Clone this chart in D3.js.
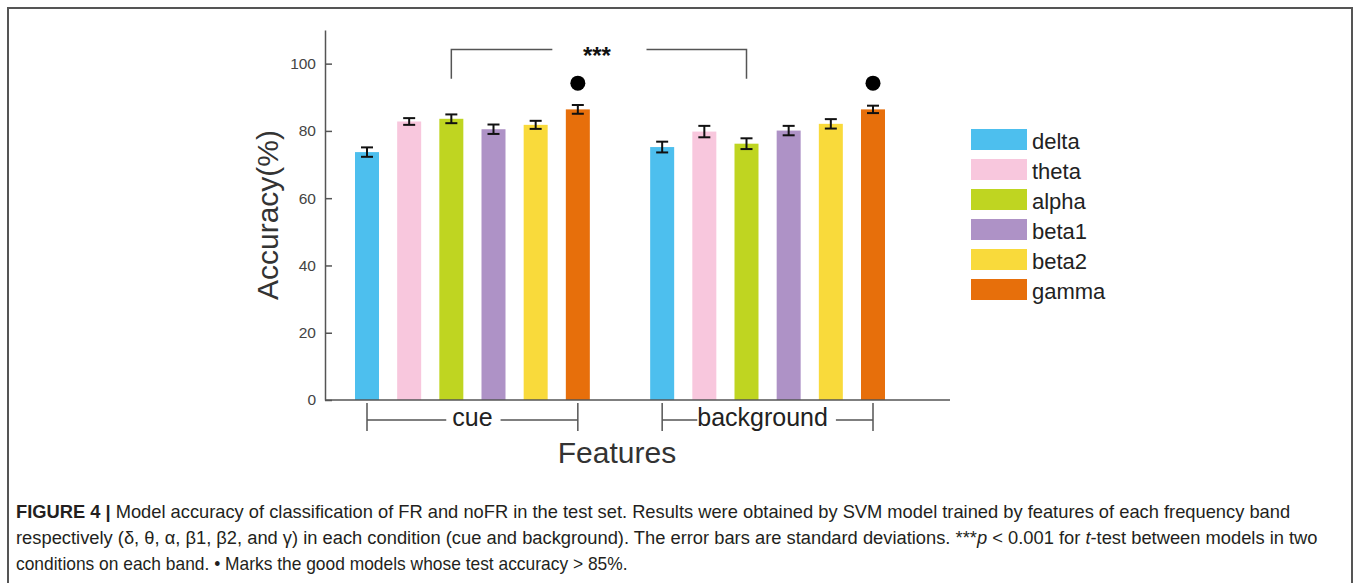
<!DOCTYPE html>
<html>
<head>
<meta charset="utf-8">
<script src="https://cdn.jsdelivr.net/npm/d3@7"></script>
<style>
  html, body { margin: 0; padding: 0; background: #fff; }
  svg { display: block; }
  text { font-family: "Liberation Sans", Arial, Helvetica, sans-serif; }
</style>
</head>
<body>
<svg id="chart" width="1357" height="583"></svg>
<script>
// ---------- data ----------
const bands = ["delta", "theta", "alpha", "beta1", "beta2", "gamma"];
const colors = ["#4DBFEE", "#F8C7DD", "#BFD521", "#AE92C6", "#F9DA3B", "#E76F0B"];
const conditions = ["cue", "background"];
const cueMean = [73.7, 82.8, 83.6, 80.5, 81.8, 86.4];
const cueSD   = [1.4, 1.0, 1.3, 1.4, 1.2, 1.3];
const bgMean  = [75.2, 79.8, 76.2, 80.1, 82.1, 86.4];
const bgSD    = [1.6, 1.7, 1.6, 1.4, 1.4, 1.1];
const goodModel = [["cue", "gamma"], ["background", "gamma"]];
const dotLevel = 94.2;
const yTicks = [0, 20, 40, 60, 80, 100];
const sigLabel = "***";
const sigTop = 104.2, sigBottom = 95.5;

const svg = d3.select("#chart");

// frame
svg.append("rect").attr("x", 8).attr("y", 8).attr("width", 1344).attr("height", 600)
  .attr("fill", "none").attr("stroke", "#555").attr("stroke-width", 2);

// ---------- scales ----------
const y = d3.scaleLinear().domain([0, 110]).range([400, 30]);
const x = d3.scaleLinear().domain([0, 12]).range([367, 873]);
const groupOffset = { "cue": 0, "background": 7 };
const barW = 24;

const records = [];
conditions.forEach(c => {
  const m = c === "cue" ? cueMean : bgMean;
  const s = c === "cue" ? cueSD : bgSD;
  bands.forEach((b, i) => records.push({ cond: c, band: b, i, idx: groupOffset[c] + i, mean: m[i], sd: s[i] }));
});

// bars
svg.append("g").selectAll("rect").data(records).join("rect")
  .attr("x", d => x(d.idx) - barW / 2)
  .attr("width", barW)
  .attr("y", d => y(d.mean))
  .attr("height", d => y(0) - y(d.mean))
  .attr("fill", d => colors[d.i]);

// error bars
const eg = svg.append("g").attr("stroke", "#111").attr("stroke-width", 2);
records.forEach(d => {
  const cx = x(d.idx);
  eg.append("line").attr("x1", cx).attr("x2", cx).attr("y1", y(d.mean + d.sd)).attr("y2", y(d.mean - d.sd));
  eg.append("line").attr("x1", cx - 6).attr("x2", cx + 6).attr("y1", y(d.mean + d.sd)).attr("y2", y(d.mean + d.sd));
  eg.append("line").attr("x1", cx - 6).attr("x2", cx + 6).attr("y1", y(d.mean - d.sd)).attr("y2", y(d.mean - d.sd));
});

// good model dots
svg.append("g").selectAll("circle").data(goodModel).join("circle")
  .attr("cx", d => x(groupOffset[d[0]] + bands.indexOf(d[1])))
  .attr("cy", y(dotLevel))
  .attr("r", 7.5)
  .attr("fill", "#000");

// y axis
const yAxis = d3.axisLeft(y).tickValues(yTicks).tickSizeInner(-7).tickSizeOuter(0).tickPadding(9);
const yg = svg.append("g").attr("transform", `translate(325,0)`).call(yAxis);
yg.select(".domain").attr("stroke", "#555").attr("stroke-width", 1.5);
yg.selectAll(".tick line").attr("stroke", "#555").attr("stroke-width", 1.5);
yg.selectAll(".tick text").attr("font-size", 15.5).attr("fill", "#444")
  .attr("font-family", "Liberation Sans, Arial, sans-serif");

// x axis line
svg.append("line").attr("x1", 325).attr("x2", 950).attr("y1", y(0)).attr("y2", y(0))
  .attr("stroke", "#555").attr("stroke-width", 1.5);

// group brackets
conditions.forEach(c => {
  const x0 = x(groupOffset[c]), x1 = x(groupOffset[c] + bands.length - 1);
  const g = svg.append("g").attr("stroke", "#555").attr("stroke-width", 1.5);
  g.append("line").attr("x1", x0).attr("x2", x0).attr("y1", 403).attr("y2", 431);
  g.append("line").attr("x1", x1).attr("x2", x1).attr("y1", 403).attr("y2", 431);
  const t = svg.append("text").attr("x", (x0 + x1) / 2 - (c === "cue" ? 0 : 5)).attr("y", 426)
    .attr("text-anchor", "middle").attr("font-size", 25).attr("fill", "#222").text(c);
  const bb = t.node().getBBox();
  const padL = c === "cue" ? 6 : 0, padR = 8;
  g.append("line").attr("x1", x0).attr("x2", bb.x - padL).attr("y1", 420).attr("y2", 420);
  g.append("line").attr("x1", bb.x + bb.width + padR).attr("x2", x1).attr("y1", 420).attr("y2", 420);
});

// axis titles
svg.append("text").attr("x", 617).attr("y", 463).attr("text-anchor", "middle")
  .attr("font-size", 30).attr("fill", "#333").text("Features");
svg.append("text").attr("transform", "translate(278,215) rotate(-90)").attr("text-anchor", "middle")
  .attr("font-size", 30).attr("fill", "#333").text("Accuracy(%)");

// significance bracket
const sxL = x(groupOffset.cue + 2), sxR = x(groupOffset.background + 2);
const sg = svg.append("g").attr("stroke", "#555").attr("stroke-width", 1.5).attr("fill", "none");
svg.append("text").attr("x", (sxL + sxR) / 2 - 2).attr("y", 64).attr("text-anchor", "middle")
  .attr("font-size", 24).attr("font-weight", "bold").attr("fill", "#111").text(sigLabel);
sg.append("path").attr("d", `M${sxL},${y(sigBottom)}V${y(sigTop)}H${sxL + 101}`);
sg.append("path").attr("d", `M${sxR - 100},${y(sigTop)}H${sxR}V${y(sigBottom)}`);

// legend
const lg = svg.append("g").attr("transform", "translate(971,129)");
bands.forEach((b, i) => {
  lg.append("rect").attr("x", 0).attr("y", i * 30).attr("width", 56).attr("height", 21).attr("fill", colors[i]);
  lg.append("text").attr("x", 61).attr("y", i * 30 + 20).attr("font-size", 22).attr("fill", "#222").text(b);
});

// caption
const capLines = [
  { parts: [["FIGURE 4 | ", "bold", "normal"], ["Model accuracy of classification of FR and noFR in the test set. Results were obtained by SVM model trained by features of each frequency band", "normal", "normal"]], w: 1275 },
  { parts: [["respectively (δ, θ, α, β1, β2, and γ) in each condition (cue and background). The error bars are standard deviations. ***", "normal", "normal"], ["p", "normal", "italic"], [" < 0.001 for ", "normal", "normal"], ["t", "normal", "italic"], ["-test between models in two", "normal", "normal"]], w: 1302 },
  { parts: [["conditions on each band. • Marks the good models whose test accuracy > 85%.", "normal", "normal"]], w: 612 }
];
capLines.forEach((ln, k) => {
  const t = svg.append("text").attr("x", 0).attr("y", 0).attr("font-size", 18).attr("fill", "#231f20")
    .attr("xml:space", "preserve");
  ln.parts.forEach(p => t.append("tspan").attr("font-weight", p[1]).attr("font-style", p[2]).text(p[0]));
  const L = t.node().getComputedTextLength();
  t.attr("transform", `translate(16,${518 + k * 26}) scale(${ln.w / L},1)`);
});
</script>
</body>
</html>
